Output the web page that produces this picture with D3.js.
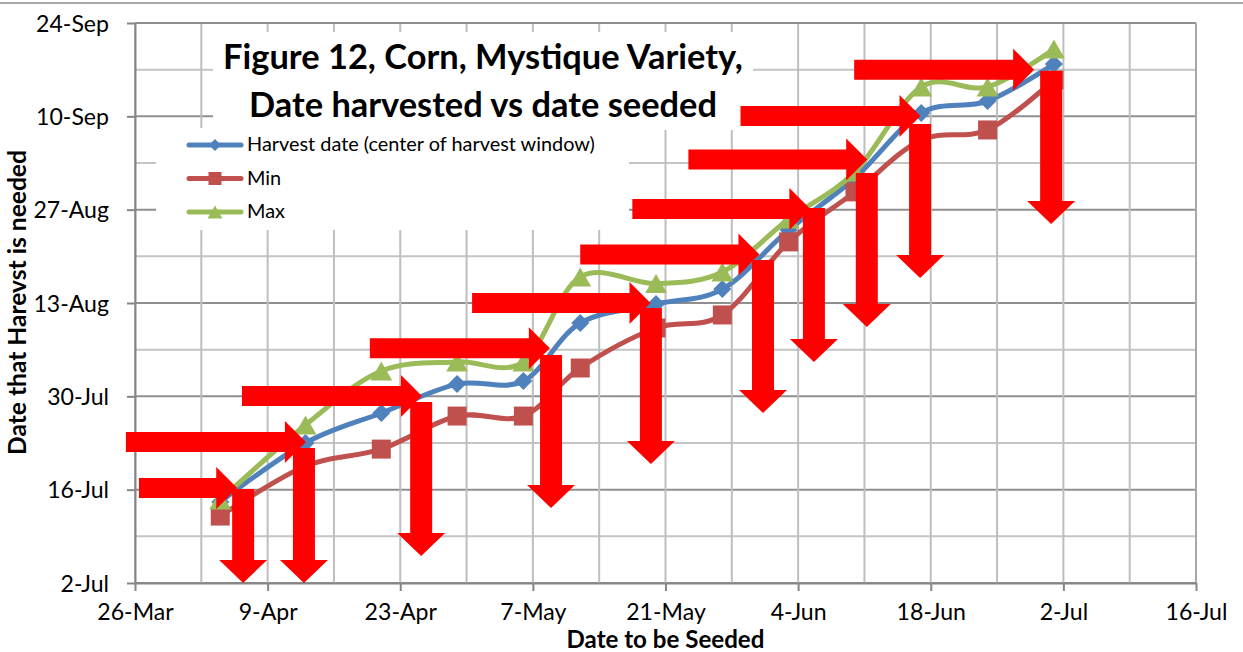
<!DOCTYPE html>
<html><head><meta charset="utf-8">
<script src="https://cdn.jsdelivr.net/npm/d3@7"></script>
<style>
body{margin:0;background:#fff}
svg{display:block}
text{font-family:Lato,"Open Sans",sans-serif;fill:#000}
</style>
</head><body>
<svg id="chart" width="1243" height="652"></svg>
<script>
// ---------- data ----------
const seedDates = ["2013-04-04","2013-04-13","2013-04-21","2013-04-29","2013-05-06","2013-05-12","2013-05-20","2013-05-27","2013-06-03","2013-06-10","2013-06-17","2013-06-24","2013-07-01"];
const harvestCenter = ["2013-07-14 04:00","2013-07-23 00:00","2013-07-27 12:00","2013-07-31 20:00","2013-08-01 07:00","2013-08-10 00:00","2013-08-12 20:00","2013-08-15 02:00","2013-08-23 23:00","2013-08-31 18:00","2013-09-10 12:00","2013-09-12 07:00","2013-09-17 20:00"];
const harvestMin = ["2013-07-12 01:00","2013-07-19 13:00","2013-07-22 02:00","2013-07-27 01:00","2013-07-27 01:00","2013-08-03 06:00","2013-08-09 06:00","2013-08-11 05:00","2013-08-22 04:00","2013-08-29 16:00","2013-09-06 11:00","2013-09-07 23:00","2013-09-15 11:00"];
const harvestMax = ["2013-07-14 11:00","2013-07-25 17:00","2013-08-02 19:00","2013-08-04 04:00","2013-08-04 04:00","2013-08-16 22:00","2013-08-15 22:00","2013-08-17 16:00","2013-08-25 14:00","2013-09-01 16:00","2013-09-14 10:00","2013-09-14 10:00","2013-09-20 02:00"];
const seriesNames = ["Harvest date (center of harvest window)","Min","Max"];
const xTickLabels = ["26-Mar","9-Apr","23-Apr","7-May","21-May","4-Jun","18-Jun","2-Jul","16-Jul"];
const yTickLabels = ["2-Jul","16-Jul","30-Jul","13-Aug","27-Aug","10-Sep","24-Sep"];
const titleLines = ["Figure 12, Corn, Mystique Variety,","Date harvested vs date seeded"];
const xTitle = "Date to be Seeded";
const yTitle = "Date that Harevst is needed";
// annotation arrows (in data coordinates)
const hArrowY    = ["2013-07-16 06:00","2013-07-23 04:00","2013-07-30 01:00","2013-08-06 05:00","2013-08-13 00:00","2013-08-20 07:00","2013-08-27 02:00","2013-09-03 13:00","2013-09-10 01:00","2013-09-17 00:00"];
const hArrowFrom = ["2013-03-26 10:00","2013-03-25 01:00","2013-04-06 07:00","2013-04-19 19:00","2013-04-30 14:00","2013-05-12 00:00","2013-05-17 12:00","2013-05-23 10:00","2013-05-28 22:00","2013-06-09 22:00"];
const hArrowTo   = ["2013-04-05 19:00","2013-04-13 01:00","2013-04-25 07:00","2013-05-08 19:00","2013-05-19 10:00","2013-05-30 22:00","2013-06-05 07:00","2013-06-11 07:00","2013-06-16 22:00","2013-06-28 22:00"];
const vArrowX    = ["2013-04-06 10:00","2013-04-12 20:00","2013-04-25 05:00","2013-05-08 22:00","2013-05-19 11:00","2013-05-31 07:00","2013-06-05 16:00","2013-06-11 06:00","2013-06-16 21:00","2013-06-30 17:00"];
const vArrowFrom = ["2013-07-16 02:00","2013-07-22 06:00","2013-07-29 04:00","2013-08-05 05:00","2013-08-12 06:00","2013-08-19 11:00","2013-08-27 06:00","2013-09-01 12:00","2013-09-08 20:00","2013-09-16 19:00"];
const vArrowTo   = ["2013-07-02 00:00","2013-07-02 00:00","2013-07-06 01:00","2013-07-13 06:00","2013-07-19 20:00","2013-07-27 12:00","2013-08-04 04:00","2013-08-09 10:00","2013-08-16 18:00","2013-08-24 20:00"];

// ---------- helpers ----------
const pFull = d3.utcParse("%Y-%m-%d %H:%M"), pDay = d3.utcParse("%Y-%m-%d");
const parse = s => s.length > 10 ? pFull(s) : pDay(s);
const pTick = d3.utcParse("%d-%b-%Y");
const tickDate = l => pTick(l + "-2013");
const xTicks = xTickLabels.map(tickDate), yTicks = yTickLabels.map(tickDate);

const L = 135, R = 1196, T = 23, B = 583;
const x = d3.scaleUtc().domain([xTicks[0], xTicks[xTicks.length-1]]).range([L, R]);
const y = d3.scaleUtc().domain([yTicks[0], yTicks[yTicks.length-1]]).range([B, T]);

const svg = d3.select("#chart");
function fit(sel, target){
  const w = sel.node().getComputedTextLength();
  const fs = parseFloat(sel.attr("font-size"));
  sel.attr("font-size", fs * target / w);
  return fs * target / w;
}

// outer frame line
svg.append("line").attr("x1",0).attr("x2",1243).attr("y1",3).attr("y2",3).attr("stroke","#8c8c8c").attr("stroke-width",1.3);

// ---------- gridlines ----------
const grid = svg.append("g");
const xGrid = d3.utcDay.range(x.domain()[0], new Date(+x.domain()[1] + 1), 7);
const yGrid = d3.utcDay.range(y.domain()[0], new Date(+y.domain()[1] + 1), 7);
const isMajorY = d => yTicks.some(t => +t === +d);
grid.selectAll(".hg").data(yGrid).join("line")
  .attr("x1", L).attr("x2", R).attr("y1", d => y(d)).attr("y2", d => y(d))
  .attr("stroke", d => isMajorY(d) ? "#8f8f8f" : "#c4c4c4").attr("stroke-width", 2);
grid.selectAll(".vg").data(xGrid).join("line")
  .attr("y1", T).attr("y2", B).attr("x1", d => x(d)).attr("x2", d => x(d))
  .attr("stroke", "#bebebe").attr("stroke-width", 2);
// plot border top/right
svg.append("line").attr("x1",L).attr("x2",R).attr("y1",T).attr("y2",T).attr("stroke","#8f8f8f").attr("stroke-width",2);
svg.append("line").attr("x1",R).attr("x2",R).attr("y1",T).attr("y2",B).attr("stroke","#a8a8a8").attr("stroke-width",2);

// ---------- axes ----------
const tickFs = (() => {
  const t = svg.append("text").attr("font-size", 20).text(yTickLabels[yTickLabels.length-1]);
  const f = fit(t, 73); t.remove(); return f;
})();
const xAxis = svg.append("g").attr("transform", `translate(0,${B})`)
  .call(d3.axisBottom(x).tickValues(xTicks).tickFormat((d,i) => xTickLabels[i]).tickSize(8).tickSizeOuter(0));
const yAxis = svg.append("g").attr("transform", `translate(${L},0)`)
  .call(d3.axisLeft(y).tickValues(yTicks).tickFormat((d,i) => yTickLabels[i]).tickSize(8).tickSizeOuter(0));
[xAxis, yAxis].forEach(a => {
  a.select(".domain").attr("stroke", "#868686").attr("stroke-width", 2);
  a.selectAll(".tick line").attr("stroke", "#868686").attr("stroke-width", 2);
  a.selectAll(".tick text").attr("font-size", tickFs).attr("font-family", "Lato").attr("fill", "#000");
});
xAxis.selectAll(".tick text").attr("y", 37).attr("dy", 0);
yAxis.selectAll(".tick text").attr("x", -26).attr("dy", 8);

// ---------- series ----------
const seeds = seedDates.map(parse);
const series = [
  {name: seriesNames[0], vals: harvestCenter.map(parse), color: "#4F81BD", marker: "diamond"},
  {name: seriesNames[1], vals: harvestMin.map(parse), color: "#C0504D", marker: "square"},
  {name: seriesNames[2], vals: harvestMax.map(parse), color: "#9BBB59", marker: "triangle"}
];
function markerPath(type, s){
  if (type === "diamond") return `M0,${-s}L${s},0L0,${s}L${-s},0Z`;
  if (type === "square") return `M${-s},${-s}H${s}V${s}H${-s}Z`;
  return `M0,${-s}L${s*1.15},${s}L${-s*1.15},${s}Z`;
}
const markerSize = {diamond: 9, square: 9.5, triangle: 9.5};
const line = d3.line().x(d => x(d[0])).y(d => y(d[1])).curve(d3.curveCatmullRom.alpha(0));
const sg = svg.append("g");
series.forEach(s => {
  const pts = seeds.map((d,i) => [d, s.vals[i]]);
  sg.append("path").attr("d", line(pts)).attr("fill", "none").attr("stroke", s.color)
    .attr("stroke-width", 5).attr("stroke-linejoin", "round").attr("stroke-linecap", "round");
  sg.selectAll(null).data(pts).join("path")
    .attr("transform", d => `translate(${x(d[0])},${y(d[1])})`)
    .attr("d", markerPath(s.marker, markerSize[s.marker])).attr("fill", s.color);
});

// ---------- title box ----------
svg.append("rect").attr("x", 213).attr("y", 32).attr("width", 540).attr("height", 98).attr("fill", "#fff");
const t1 = svg.append("text").attr("x", 483).attr("y", 69).attr("text-anchor", "middle").attr("font-weight", "bold").attr("font-size", 28).text(titleLines[0]);
const titleFs = fit(t1, 520);
svg.append("text").attr("x", 483).attr("y", 117).attr("text-anchor", "middle").attr("font-weight", "bold").attr("font-size", titleFs).text(titleLines[1]);

// ---------- legend ----------
svg.append("rect").attr("x", 156).attr("y", 128).attr("width", 473).attr("height", 102).attr("fill", "#fff");
const legY = [145, 178.5, 212];
const legMs = {diamond: 6, square: 6.5, triangle: 6.5};
let legFs = 17;
series.forEach((s, i) => {
  const g = svg.append("g").attr("transform", `translate(0,${legY[i]})`);
  g.append("line").attr("x1", 189).attr("x2", 241).attr("stroke", s.color).attr("stroke-width", 5).attr("stroke-linecap", "round");
  g.append("path").attr("transform", "translate(215,0)").attr("d", markerPath(s.marker, legMs[s.marker])).attr("fill", s.color);
  const t = g.append("text").attr("x", 247).attr("y", 6).attr("font-size", legFs).text(s.name);
  if (i === 0) legFs = fit(t, 348);
});

// ---------- axis titles ----------
const xt = svg.append("text").attr("x", 665.5).attr("y", 647.5).attr("text-anchor", "middle").attr("font-weight", "bold").attr("font-size", 20).text(xTitle);
fit(xt, 198);
const yt = svg.append("text").attr("transform", "translate(26,302.5) rotate(-90)").attr("text-anchor", "middle").attr("font-weight", "bold").attr("font-size", 20).text(yTitle);
fit(yt, 305);

// ---------- red arrows ----------
const red = "#FF0000";
const ag = svg.append("g");
const hT = 10, hL = 21, hH = 21;
hArrowY.forEach((yy, i) => {
  const yc = y(parse(yy)), x0 = x(parse(hArrowFrom[i])), x1 = x(parse(hArrowTo[i]));
  ag.append("path").attr("fill", red).attr("d",
    `M${x0},${yc-hT}L${x1-hL},${yc-hT}L${x1-hL},${yc-hH}L${x1},${yc}L${x1-hL},${yc+hH}L${x1-hL},${yc+hT}L${x0},${yc+hT}Z`);
});
const vT = 11, vL = 23, vH = 24;
vArrowX.forEach((xx, i) => {
  const xc = x(parse(xx)), y0 = y(parse(vArrowFrom[i])), y1 = y(parse(vArrowTo[i]));
  ag.append("path").attr("fill", red).attr("d",
    `M${xc-vT},${y0}L${xc+vT},${y0}L${xc+vT},${y1-vL}L${xc+vH},${y1-vL}L${xc},${y1}L${xc-vH},${y1-vL}L${xc-vT},${y1-vL}Z`);
});
</script>
</body></html>
